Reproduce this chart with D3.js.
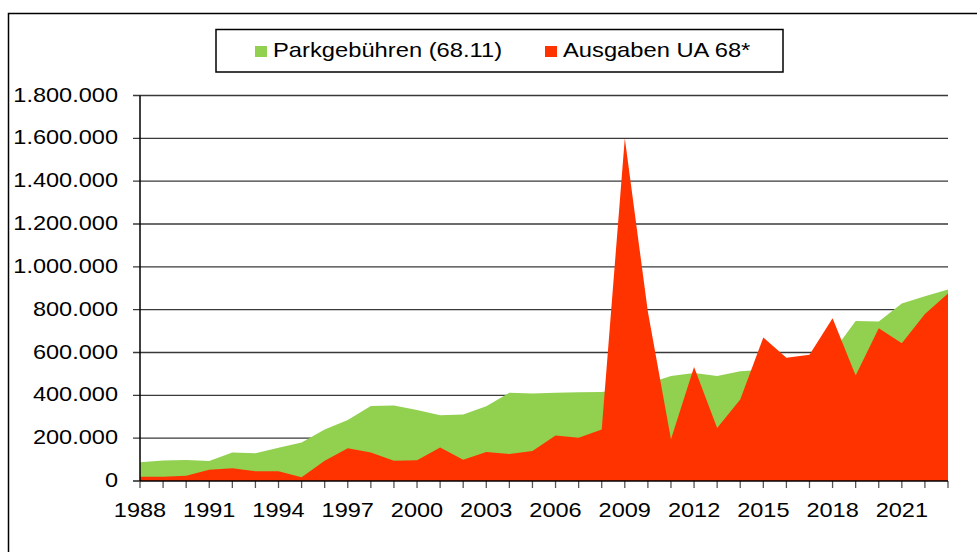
<!DOCTYPE html>
<html>
<head>
<meta charset="utf-8">
<script src="https://cdn.jsdelivr.net/npm/d3@7"></script>
<style>
  body { margin: 0; background: #fff; }
  text { font-family: "Liberation Sans", Arial, sans-serif; fill: #000; }
</style>
</head>
<body>
<script>
// Jahre 1988 - 2023
const years = d3.range(1988, 2024);
const parkgebuehren = [88000, 96000, 98000, 93000, 133000, 130000, 155000, 180000, 240000, 285000,
  350000, 353000, 332000, 307000, 311000, 349000, 412000, 409000, 412000, 414000,
  415000, 430000, 455000, 490000, 504000, 490000, 513000, 520000, 570000, 585000,
  600000, 747000, 745000, 829000, 863000, 894000];
const ausgaben = [20000, 20000, 25000, 53000, 60000, 45000, 46000, 17000, 95000, 153000,
  133000, 95000, 97000, 157000, 99000, 135000, 126000, 140000, 212000, 202000,
  240000, 1600000, 790000, 195000, 532000, 248000, 380000, 670000, 575000, 589000,
  760000, 493000, 713000, 643000, 780000, 876000];
const yTicks = d3.range(0, 1800001, 200000);
const xLabels = d3.range(1988, 2022, 3);
const seriesNames = ["Parkgebühren (68.11)", "Ausgaben UA 68*"];
const colors = ["#92D050", "#FF3300"];

const W = 977, H = 552;
const svg = d3.select("body").append("svg").attr("width", W).attr("height", H);

// stretch text a bit wider, the original font is broader
function stretch(sel, k) {
  sel.each(function () {
    const l = this.getComputedTextLength();
    d3.select(this).attr("textLength", l * k).attr("lengthAdjust", "spacingAndGlyphs");
  });
}

// outer frame
svg.append("rect").attr("x", 8.5).attr("y", 13.5).attr("width", 1000).attr("height", 600)
  .attr("fill", "none").attr("stroke", "#000").attr("stroke-width", 1.5);

const x = d3.scaleLinear().domain([1988, 2023]).range([140, 948]);
const y = d3.scaleLinear().domain([0, 1800000]).range([481, 95.5]);

const de = d3.formatLocale({decimal: ",", thousands: ".", grouping: [3], currency: ["", " €"]});
const fmt = de.format(",d");

// gridlines
svg.append("g").selectAll("line").data(yTicks.filter(d => d > 0)).enter().append("line")
  .attr("x1", 133).attr("x2", 948)
  .attr("y1", d => y(d)).attr("y2", d => y(d))
  .attr("stroke", "#3a3a3a").attr("stroke-width", 1.3);

const pts = years.map((yr, i) => ({yr: yr, g: parkgebuehren[i], r: ausgaben[i]}));
const areaG = d3.area().x(d => x(d.yr)).y0(y(0)).y1(d => y(d.g));
const areaR = d3.area().x(d => x(d.yr)).y0(y(0)).y1(d => y(d.r));
svg.append("path").datum(pts).attr("d", areaG).attr("fill", colors[0]);
svg.append("path").datum(pts).attr("d", areaR).attr("fill", colors[1]);

// y axis
svg.append("line").attr("x1", 140).attr("x2", 140).attr("y1", y(1800000)).attr("y2", 481)
  .attr("stroke", "#000").attr("stroke-width", 1.5);
svg.append("line").attr("x1", 133).attr("x2", 140).attr("y1", 481).attr("y2", 481)
  .attr("stroke", "#000").attr("stroke-width", 1.3);
svg.append("g").selectAll("text").data(yTicks).enter().append("text")
  .attr("x", 118).attr("y", d => y(d) + 6)
  .attr("text-anchor", "end").style("font-size", "21px")
  .text(d => fmt(d))
  .call(stretch, 1.12);

// x axis
svg.append("g").selectAll("line").data(years).enter().append("line")
  .attr("x1", d => x(d)).attr("x2", d => x(d)).attr("y1", 481).attr("y2", 488)
  .attr("stroke", "#555").attr("stroke-width", 1.3);
svg.append("line").attr("x1", 140).attr("x2", 948).attr("y1", 481).attr("y2", 481)
  .attr("stroke", "#000").attr("stroke-width", 1.5);
svg.append("g").selectAll("text").data(xLabels).enter().append("text")
  .attr("x", d => x(d)).attr("y", 517)
  .attr("text-anchor", "middle").style("font-size", "21px")
  .text(d => d)
  .call(stretch, 1.12);

// legend
const lg = svg.append("g");
lg.append("rect").attr("x", 216).attr("y", 29.5).attr("width", 567).attr("height", 42.5)
  .attr("fill", "#fff").attr("stroke", "#000").attr("stroke-width", 1.5);
const legX = [255, 545];
seriesNames.forEach((name, i) => {
  lg.append("rect").attr("x", legX[i]).attr("y", 46).attr("width", 12).attr("height", 11)
    .attr("fill", colors[i]);
  lg.append("text").attr("x", legX[i] + 18).attr("y", 57).style("font-size", "21px")
    .text(name).call(stretch, 1.13);
});
</script>
</body>
</html>
